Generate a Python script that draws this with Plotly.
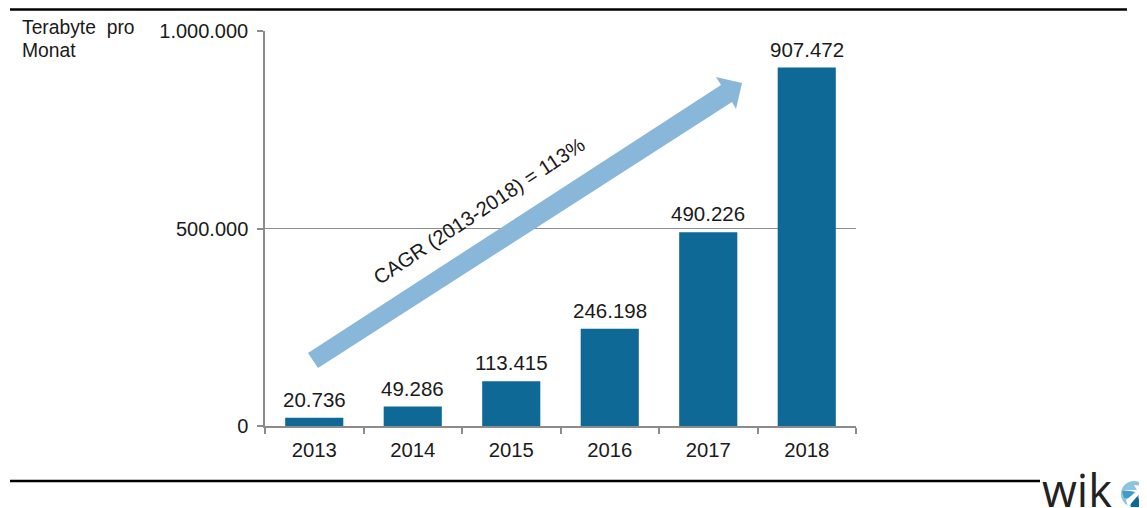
import plotly.graph_objects as go

years = ["2013", "2014", "2015", "2016", "2017", "2018"]
traffic_tb = [20736, 49286, 113415, 246198, 490226, 907472]
y_ticks = [0, 500000, 1000000]
y_title_lines = ["Terabyte  pro", "Monat"]
cagr_label = "CAGR (2013-2018) = 113%"

PAGE_W, PAGE_H = 1147, 508
OFFSET = 8  # default page margin round the figure
W, H = PAGE_W - OFFSET, PAGE_H - OFFSET
L, R, T, B = 265, 856, 31, 426
FONT = "Liberation Sans"
BAR = "#0f6996"
ARROW = "#88b7da"
AXIS = "#8c8c8c"
TEXT = "#1a1a1a"


def px(x):
    return (x - L) / (R - L)


def py(y):
    return (B - y) / (B - T)


def poly(points):
    return "M " + " L ".join(f"{px(x):.5f},{py(y):.5f}" for x, y in points) + " Z"


def rule(x0, y, x1, color="#000000", width=2.5):
    return dict(type="line", xref="paper", yref="paper", x0=px(x0), x1=px(x1),
                y0=py(y), y1=py(y), line=dict(color=color, width=width), layer="above")


def fill(points, color):
    return dict(type="path", xref="paper", yref="paper", path=poly(points),
                fillcolor=color, line=dict(width=0), layer="above")


fig = go.Figure(go.Bar(
    x=years, y=traffic_tb, marker=dict(color=BAR, line=dict(width=0)), width=0.59, hoverinfo="skip",
))

shapes = [
    rule(10, 9.5, 1127),
    rule(10, 481, 1040),
    fill([(308, 353), (721, 85), (716, 77), (742, 83), (736, 109), (732, 102), (318, 368)], ARROW),
    dict(type="circle", xref="paper", yref="paper", x0=px(1121), x1=px(1147),
         y0=py(507), y1=py(481), fillcolor="#8dc3de", line=dict(width=0), layer="above"),
    fill([(1122, 491), (1135, 491), (1130, 498), (1124, 498)], "#3f9cc8"),
    fill([(1131, 507), (1131, 500), (1137, 495), (1142, 507)], "#0f6996"),
    fill([(1124, 490), (1137, 490), (1134, 485), (1145, 486), (1144, 497), (1140, 493), (1128, 507), (1126, 500), (1136, 492)], "#ffffff"),
]

annotations = [
    dict(text=f"{v:,}".replace(",", "."), x=i, y=v, xref="x", yref="y", xanchor="center", yanchor="bottom",
         yshift=5, showarrow=False, font=dict(family=FONT, size=20.5, color=TEXT))
    for i, v in enumerate(traffic_tb)
]
annotations += [
    dict(text=line, xref="paper", yref="paper", x=px(20), y=py(yc), xanchor="left", yanchor="middle",
         showarrow=False, font=dict(family=FONT, size=19.3, color=TEXT))
    for line, yc in zip(y_title_lines, [27.5, 50.5])
]
annotations += [
    dict(text=cagr_label, xref="paper", yref="paper", x=px(479), y=py(211), xanchor="center", yanchor="middle",
         textangle=-33.5, showarrow=False, font=dict(family=FONT, size=20.3, color=TEXT)),
    dict(text="wik", xref="paper", yref="paper", x=px(1040), y=py(489), xanchor="left", yanchor="middle",
         showarrow=False, font=dict(family="Open Sans", size=45, color="#222222")),
]

fig.update_layout(
    width=W, height=H, autosize=False,
    margin=dict(l=L - OFFSET, r=W - (R - OFFSET), t=T - OFFSET, b=H - (B - OFFSET)),
    paper_bgcolor="#ffffff", plot_bgcolor="#ffffff",
    separators=",.", showlegend=False, shapes=shapes, annotations=annotations,
    font=dict(family=FONT, size=20, color=TEXT),
)
fig.update_xaxes(
    type="category", categoryorder="array", categoryarray=years, range=[-0.5, 5.5],
    tickson="boundaries", ticks="outside", ticklen=6, tickcolor=AXIS, tickwidth=1.5, tickangle=0,
    ticklabelstandoff=5, showline=True, linecolor=AXIS, linewidth=1.5, showgrid=False, zeroline=False,
    tickfont=dict(family=FONT, size=20.3, color=TEXT),
)
fig.update_yaxes(
    range=[0, 1000000], tickvals=y_ticks, tickformat=",.0f", ticks="outside", ticklen=6, tickcolor=AXIS,
    ticklabelstandoff=5, tickwidth=1.5, showline=True, linecolor=AXIS, linewidth=1.5, showgrid=True,
    gridcolor=AXIS, gridwidth=1.2, zeroline=False,
)

fig.write_html("out.html", config=dict(displayModeBar=False))
